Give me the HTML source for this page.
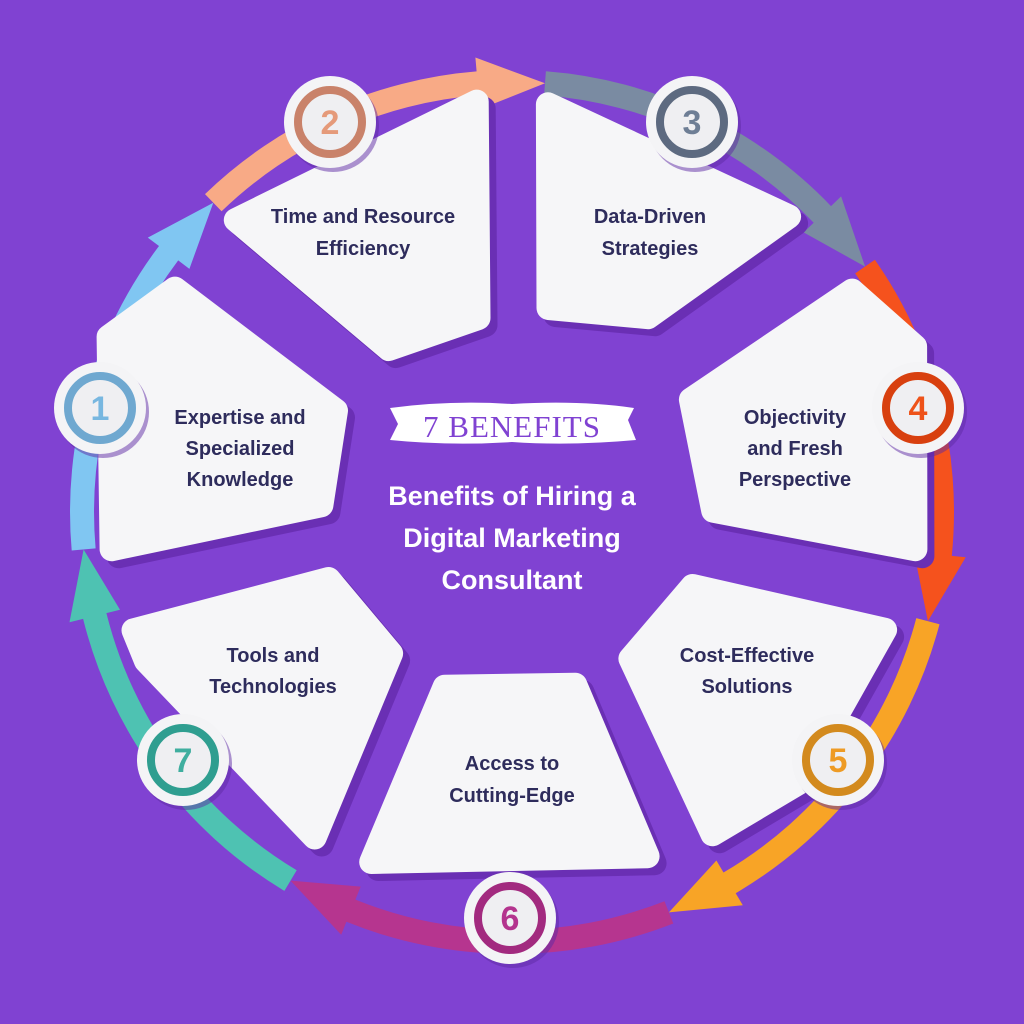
<!DOCTYPE html>
<html><head><meta charset="utf-8"><style>
html,body{margin:0;padding:0;background:#8042D2;}
svg{display:block}
.t{font-family:"Liberation Sans",sans-serif;font-weight:bold;font-size:20px;fill:#2E2C5C;text-anchor:middle}
.h{font-family:"Liberation Sans",sans-serif;font-weight:bold;font-size:27px;fill:#fff;text-anchor:middle}
.n{font-family:"Liberation Sans",sans-serif;font-weight:bold;font-size:34px;text-anchor:middle}
</style></head><body>
<svg id="s" width="1024" height="1024" viewBox="0 0 1024 1024" xmlns="http://www.w3.org/2000/svg">
<rect width="1024" height="1024" fill="#8042D2"/>
<g id="arrows"></g>
<g id="cards"></g>
<path d="M390 408 Q450 400 512 404 Q580 400 634 408 L628 420 L636 440 Q570 446 512 442 Q450 446 390 440 L398 424 Z" fill="#fff"/>
<text x="512" y="437" style="font-family:'Liberation Serif',serif;font-size:31px;fill:#8042D2;text-anchor:middle;letter-spacing:1px">7 BENEFITS</text>
<text class="h" x="512" y="505">Benefits of Hiring a</text>
<text class="h" x="512" y="547">Digital Marketing</text>
<text class="h" x="512" y="589">Consultant</text>
<g id="labels">
<text class="t" x="363" y="223">Time and Resource</text><text class="t" x="363" y="255">Efficiency</text>
<text class="t" x="650" y="223">Data-Driven</text><text class="t" x="650" y="255">Strategies</text>
<text class="t" x="240" y="424">Expertise and</text><text class="t" x="240" y="455">Specialized</text><text class="t" x="240" y="486">Knowledge</text>
<text class="t" x="795" y="424">Objectivity</text><text class="t" x="795" y="455">and Fresh</text><text class="t" x="795" y="486">Perspective</text>
<text class="t" x="747" y="662">Cost-Effective</text><text class="t" x="747" y="693">Solutions</text>
<text class="t" x="512" y="770">Access to</text><text class="t" x="512" y="802">Cutting-Edge</text>
<text class="t" x="273" y="662">Tools and</text><text class="t" x="273" y="693">Technologies</text>
</g>
<g id="badges"></g>
</svg>
<script>
var NS="http://www.w3.org/2000/svg";
function el(p,t,a,txt){var e=document.createElementNS(NS,t);for(var k in a)e.setAttribute(k,a[k]);if(txt)e.textContent=txt;p.appendChild(e);return e;}
var cx=512,cy=512,R=430,W=12;
function P(a,r){a=a*Math.PI/180;return [(cx+r*Math.cos(a)).toFixed(1),(cy+r*Math.sin(a)).toFixed(1)];}
var ang=[175,226,274.4,325.2,374.7,428.6,481,535];
var cols=["#80C6F2","#F8AA86","#7A8BA2","#F5521D","#F8A426","#B6358F","#4EC2B2"];
var ag=document.getElementById("arrows");
for(var i=0;i<7;i++){
 var a=ang[i],b=ang[i+1],m=b-9;
 var p1=P(a,R+W),p2=P(m,R+W),p3=P(m,R-W),p4=P(a,R-W);
 var h1=P(m,R+26),h2=P(m,R-26),tip=P(b,R);
 var d="M"+p1+" A"+(R+W)+" "+(R+W)+" 0 0 1 "+p2+" L"+h1+" L"+tip+" L"+h2+" L"+p3+" A"+(R-W)+" "+(R-W)+" 0 0 0 "+p4+" Z";
 el(ag,"path",{d:d,fill:cols[i]});
}
var cards=[
 [[225,218],[482,92],[487,325],[388,360]],
 [[542,95],[800,215],[650,328],[540,315]],
 [[172,278],[347,410],[330,512],[105,558],[100,330]],
 [[855,280],[924,340],[922,558],[705,518],[680,398]],
 [[620,655],[688,576],[895,625],[805,792],[710,845]],
 [[438,678],[582,676],[657,862],[362,868]],
 [[123,627],[335,570],[402,652],[318,848],[135,660]]
];
var ins=11;
var cg=document.getElementById("cards");
var polys=cards.map(function(pts){
 var sx=0,sy=0;pts.forEach(function(p){sx+=p[0];sy+=p[1];});sx/=pts.length;sy/=pts.length;
 return pts.map(function(p){var dx=p[0]-sx,dy=p[1]-sy,l=Math.sqrt(dx*dx+dy*dy);return (p[0]-dx/l*ins).toFixed(1)+","+(p[1]-dy/l*ins).toFixed(1);}).join(" ");
});
polys.forEach(function(p){
 el(cg,"polygon",{points:p,fill:"#6A2FB4",stroke:"#6A2FB4","stroke-width":24,"stroke-linejoin":"round",transform:"translate(7,7)"});
});
polys.forEach(function(p){
 el(cg,"polygon",{points:p,fill:"#F6F6F8",stroke:"#F6F6F8","stroke-width":24,"stroke-linejoin":"round"});
});
var bad=[[100,408,"1","#6FA8D0","#78B7E0"],[330,122,"2","#C9826A","#E59A7A"],[692,122,"3","#5D6A80","#6E7E95"],[918,408,"4","#D8400F","#EE5219"],[838,760,"5","#D38A1E","#EE9B25"],[510,918,"6","#A22A7F","#B4348E"],[183,760,"7","#2F9E90","#3FAE9F"]];
var bg=document.getElementById("badges");
bad.forEach(function(b){
 el(bg,"circle",{cx:b[0]+3,cy:b[1]+4,r:46,fill:"#5E2AA3",opacity:0.5});
 el(bg,"circle",{cx:b[0],cy:b[1],r:46,fill:"#F4F4F6"});
 el(bg,"circle",{cx:b[0],cy:b[1],r:32,fill:"#EFEFF2",stroke:b[3],"stroke-width":8});
 el(bg,"text",{x:b[0],y:b[1]+12,"class":"n",fill:b[4]},b[2]);
});
</script>
</body></html>
